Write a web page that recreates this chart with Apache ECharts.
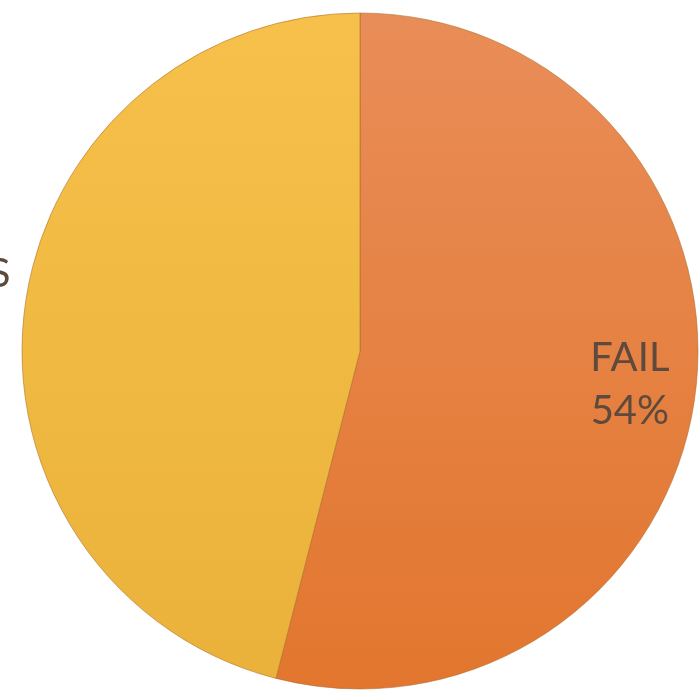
<!DOCTYPE html>
<html>
<head>
<meta charset="utf-8">
<script src="https://cdn.jsdelivr.net/npm/echarts@6/dist/echarts.min.js"></script>
<style>html,body{margin:0;padding:0;background:#fff;}#c{width:699px;height:695px;}</style>
</head>
<body>
<div id="c"></div>
<script>
const categories = ['FAIL', 'PASS'];
const values = [54, 46];
const percentLabels = ['54%', '46%'];

const fills = {
  FAIL: new echarts.graphic.LinearGradient(0, 0, 0, 1, [
    { offset: 0, color: '#E98D58' }, { offset: 1, color: '#E2762E' }
  ]),
  PASS: new echarts.graphic.LinearGradient(0, 0, 0, 1, [
    { offset: 0, color: '#F6C04A' }, { offset: 1, color: '#EAB23A' }
  ])
};

const textStyle = { fontFamily: 'Lato', fontSize: 40, lineHeight: 53, color: '#5E4A3C' };

const baseData = categories.map((c, i) => ({ name: c, value: values[i] }));

function labelData(showName) {
  return categories.map((c, i) => ({
    name: c, value: values[i],
    itemStyle: { color: 'rgba(0,0,0,0)', borderWidth: 0 },
    label: {
      show: c === showName, position: 'inside',
      formatter: '{n|' + c + '}\n{p|' + percentLabels[i] + '}',
      rich: {
        n: Object.assign({ align: 'center' }, textStyle),
        p: Object.assign({ align: c === 'PASS' ? 'left' : 'center' }, textStyle)
      }
    }
  }));
}

const chart = echarts.init(document.getElementById('c'), null, { renderer: 'canvas' });
chart.setOption({
  animation: false,
  backgroundColor: '#ffffff',
  series: [
    {
      type: 'pie', center: [360, 351], radius: [0, 338], startAngle: 90, clockwise: true,
      silent: true, label: { show: false }, labelLine: { show: false },
      data: baseData.map(d => ({ ...d, itemStyle: { color: fills[d.name], borderColor: 'rgba(170,105,40,0.55)', borderWidth: 1 } }))
    },
    {
      type: 'pie', center: [360, 351], radius: [200, 338], startAngle: 90, clockwise: true,
      silent: true, labelLine: { show: false }, data: labelData('FAIL')
    },
    {
      type: 'pie', center: [360, 351], radius: [380, 412], startAngle: 90, clockwise: true,
      silent: true, labelLine: { show: false }, data: labelData('PASS')
    }
  ]
});
</script>
</body>
</html>
